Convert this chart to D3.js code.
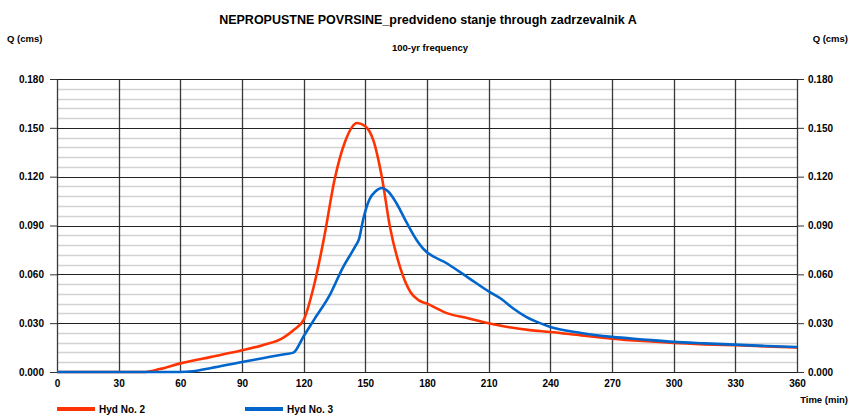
<!DOCTYPE html>
<html>
<head>
<meta charset="utf-8">
<script src="https://cdn.jsdelivr.net/npm/d3@7"></script>
<style>
  body { margin: 0; background: #fff; }
  text { font-family: "Liberation Sans Narrow", "Liberation Sans", Arial, sans-serif; font-weight: bold; fill: #000; }
</style>
</head>
<body>
<div id="wrapper"></div>
<script>
'use strict';

//#region DATASET
const xTicks = [0, 30, 60, 90, 120, 150, 180, 210, 240, 270, 300, 330, 360];
const yTicks = [0, 0.03, 0.06, 0.09, 0.12, 0.15, 0.18];

const hyd2Time = [0, 42, 50, 60, 75, 90, 100, 110, 115, 120, 125, 130, 135, 140, 146, 150, 154, 158, 162, 167, 172, 176, 180, 190, 200, 210, 220, 230, 240, 255, 270, 285, 300, 315, 330, 345, 360];
const hyd2Flow = [0, 0, 0.0018, 0.0053, 0.0093, 0.0133, 0.0165, 0.021, 0.0257, 0.032, 0.053, 0.083, 0.118, 0.141, 0.153, 0.151, 0.142, 0.120, 0.089, 0.064, 0.049, 0.044, 0.042, 0.036, 0.033, 0.030, 0.0275, 0.0257, 0.0246, 0.0225, 0.0205, 0.019, 0.0178, 0.017, 0.0164, 0.0157, 0.015];

const hyd3Time = [0, 60, 66, 75, 90, 100, 110, 115, 120, 125, 133, 139, 145, 147, 149, 152, 155, 158, 161, 165, 170, 175, 178, 190, 200, 210, 216, 222, 228, 235, 240, 255, 270, 285, 300, 315, 330, 345, 360];
const hyd3Flow = [0, 0, 0.0005, 0.0025, 0.0062, 0.0085, 0.0108, 0.0119, 0.022, 0.032, 0.048, 0.064, 0.077, 0.082, 0.094, 0.106, 0.111, 0.113, 0.111, 0.104, 0.092, 0.081, 0.076, 0.0665, 0.058, 0.0495, 0.045, 0.039, 0.034, 0.030, 0.0277, 0.024, 0.0216, 0.020, 0.0185, 0.0176, 0.0168, 0.016, 0.0154];

const seriesNames = ['Hyd No. 2', 'Hyd No. 3'];
const seriesColors = ['#ff3300', '#0066cc'];
//#endregion DATASET

//#region CHART DIMENSIONS
const dimensions = {
  width: 852,
  height: 415,
  margin: { top: 79, right: 55, bottom: 43, left: 57 }
};
dimensions.plotWidth = dimensions.width - dimensions.margin.left - dimensions.margin.right;
dimensions.plotHeight = dimensions.height - dimensions.margin.top - dimensions.margin.bottom;
//#endregion CHART DIMENSIONS

//#region DRAW CANVAS
const svg = d3.select('#wrapper').append('svg')
  .attr('width', dimensions.width)
  .attr('height', dimensions.height);

const plot = svg.append('g')
  .attr('transform', `translate(${dimensions.margin.left},${dimensions.margin.top})`);
//#endregion DRAW CANVAS

//#region CREATE SCALES
const xScale = d3.scaleLinear().domain([0, 360]).range([0, dimensions.plotWidth]);
const yScale = d3.scaleLinear().domain([0, 0.18]).range([dimensions.plotHeight, 0]);
//#endregion CREATE SCALES

//#region GRID
const minorTicks = d3.range(0, 0.1801, 0.006).filter(v => Math.abs(v / 0.03 - Math.round(v / 0.03)) > 1e-6);

plot.append('g').selectAll('line').data(minorTicks).join('line')
  .attr('x1', 0).attr('x2', dimensions.plotWidth)
  .attr('y1', d => Math.round(yScale(d)) + 0.5).attr('y2', d => Math.round(yScale(d)) + 0.5)
  .attr('stroke', '#d2d2d2').attr('stroke-width', 1.5);

plot.append('g').selectAll('line').data(xTicks).join('line')
  .attr('x1', d => Math.round(xScale(d)) + 0.5).attr('x2', d => Math.round(xScale(d)) + 0.5)
  .attr('y1', 0).attr('y2', dimensions.plotHeight)
  .attr('stroke', '#3a3a3a').attr('stroke-width', 1.3);

plot.append('g').selectAll('line').data(yTicks).join('line')
  .attr('x1', 0).attr('x2', dimensions.plotWidth)
  .attr('y1', d => Math.round(yScale(d)) + 0.5).attr('y2', d => Math.round(yScale(d)) + 0.5)
  .attr('stroke', '#222').attr('stroke-width', 1.2);
//#endregion GRID

//#region AXES
const leftAxis = d3.axisLeft(yScale).tickValues(yTicks).tickFormat(d3.format('.3f')).tickSize(7).tickPadding(6);
const rightAxis = d3.axisRight(yScale).tickValues(yTicks).tickFormat(d3.format('.3f')).tickSize(7).tickPadding(4);
const bottomAxis = d3.axisBottom(xScale).tickValues(xTicks).tickFormat(d3.format('d')).tickSize(0).tickPadding(8);

[
  plot.append('g').call(leftAxis),
  plot.append('g').attr('transform', `translate(${dimensions.plotWidth},0)`).call(rightAxis),
  plot.append('g').attr('transform', `translate(0,${dimensions.plotHeight})`).call(bottomAxis)
].forEach(g => {
  g.select('.domain').remove();
  g.selectAll('.tick line').attr('stroke', '#333');
  g.selectAll('.tick text').style('font-size', '10px').style('font-family', '"Liberation Sans Narrow", "Liberation Sans", sans-serif').style('font-weight', 'bold');
});
//#endregion AXES

//#region DRAW DATA
const lineGen = d3.line()
  .x(d => xScale(d[0]))
  .y(d => yScale(d[1]))
  .curve(d3.curveMonotoneX);

const series = [
  d3.zip(hyd2Time, hyd2Flow),
  d3.zip(hyd3Time, hyd3Flow)
];

plot.append('g').selectAll('path').data(series).join('path')
  .attr('d', lineGen)
  .attr('fill', 'none')
  .attr('stroke', (d, i) => seriesColors[i])
  .attr('stroke-width', 2.6)
  .attr('stroke-linejoin', 'round');
//#endregion DRAW DATA

//#region PERIPHERALS
svg.append('text')
  .attr('x', 428).attr('y', 24)
  .attr('text-anchor', 'middle')
  .style('font-size', '12.5px')
  .text('NEPROPUSTNE POVRSINE_predvideno stanje through zadrzevalnik A');

svg.append('text')
  .attr('x', 430).attr('y', 51)
  .attr('text-anchor', 'middle')
  .style('font-size', '9.5px')
  .text('100-yr frequency');

svg.append('text').attr('x', 7).attr('y', 42).style('font-size', '9.5px').text('Q (cms)');
svg.append('text').attr('x', 848).attr('y', 42).attr('text-anchor', 'end').style('font-size', '9.5px').text('Q (cms)');
svg.append('text').attr('x', 848).attr('y', 403).attr('text-anchor', 'end').style('font-size', '9.5px').text('Time (min)');

const legend = svg.append('g');
const legendX = [57, 245];
seriesNames.forEach((name, i) => {
  legend.append('line')
    .attr('x1', legendX[i]).attr('x2', legendX[i] + 38)
    .attr('y1', 409).attr('y2', 409)
    .attr('stroke', seriesColors[i]).attr('stroke-width', 4);
  legend.append('text')
    .attr('x', legendX[i] + 42).attr('y', 413)
    .style('font-size', '10px')
    .text(name);
});
//#endregion PERIPHERALS
</script>
</body>
</html>
